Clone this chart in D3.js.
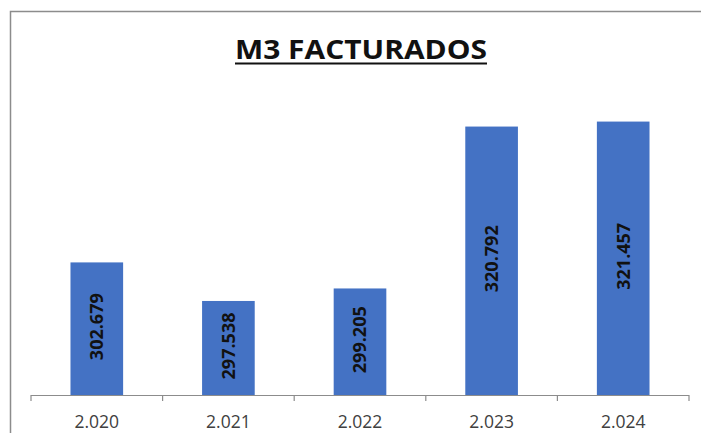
<!DOCTYPE html>
<html><head><meta charset="utf-8">
<script src="https://cdn.jsdelivr.net/npm/d3@7"></script>
<style>html,body{margin:0;padding:0;background:#fff;}svg{display:block;}</style>
</head><body>
<script>
const title = "M3 FACTURADOS";
const categories = ["2.020", "2.021", "2.022", "2.023", "2.024"];
const values = [302.679, 297.538, 299.205, 320.792, 321.457];
const valueLabels = ["302.679", "297.538", "299.205", "320.792", "321.457"];
const yDomain = [285, 325];

const W = 701, H = 433;
const FONT = "'Open Sans', 'Liberation Sans', Arial, sans-serif";
const svg = d3.select("body").append("svg").attr("width", W).attr("height", H);

// outer frame (cropped on right/bottom)
svg.append("path").attr("d", "M10.5,440 V11.5 H710")
  .attr("fill", "none").attr("stroke", "#8c8c8c").attr("stroke-width", 1.5);

const x = d3.scaleBand().domain(categories).range([31, 689]).paddingInner(0.6).paddingOuter(0.3);
const y = d3.scaleLinear().domain(yDomain).range([395, 95]);

// bars
svg.selectAll("rect.bar").data(values).join("rect").attr("class", "bar")
  .attr("x", (d, i) => x(categories[i]))
  .attr("width", x.bandwidth())
  .attr("y", d => y(d))
  .attr("height", d => y(yDomain[0]) - y(d))
  .attr("fill", "#4472C4");

// value labels
svg.selectAll("text.val").data(values).join("text").attr("class", "val")
  .attr("transform", (d, i) => {
    const cx = x(categories[i]) + x.bandwidth() / 2;
    const cy = (y(d) + y(yDomain[0])) / 2 - 2;
    return `translate(${cx},${cy}) rotate(-90)`;
  })
  .attr("text-anchor", "middle").attr("dy", "0.35em")
  .attr("font-family", FONT)
  .attr("font-weight", "bold").attr("font-size", 18).attr("fill", "#111")
  .text((d, i) => valueLabels[i]);

// x axis
const base = y(yDomain[0]);
const axisG = svg.append("g").attr("transform", `translate(0,${base})`);
axisG.append("line").attr("x1", 31).attr("x2", 689).attr("y1", 0.5).attr("y2", 0.5)
  .attr("stroke", "#8c8c8c").attr("stroke-width", 1.2);
const step = x.step();
d3.range(categories.length + 1).forEach(i => {
  const tx = 31 + i * step;
  axisG.append("line").attr("x1", tx).attr("x2", tx).attr("y1", 0).attr("y2", 6)
    .attr("stroke", "#8c8c8c").attr("stroke-width", 1.2);
});
axisG.selectAll("text.tick").data(categories).join("text").attr("class", "tick")
  .attr("x", d => x(d) + x.bandwidth() / 2).attr("y", 33)
  .attr("text-anchor", "middle")
  .attr("font-family", FONT)
  .attr("font-size", 17.5).attr("fill", "#404040")
  .text(d => d);

// title
svg.append("text").attr("x", 361).attr("y", 58.5).attr("text-anchor", "middle")
  .attr("font-family", FONT)
  .attr("font-weight", "bold").attr("font-size", 26.5).attr("fill", "#111")
  .attr("textLength", 252).attr("lengthAdjust", "spacingAndGlyphs")
  .text(title);
svg.append("line").attr("x1", 235).attr("x2", 487).attr("y1", 63.5).attr("y2", 63.5)
  .attr("stroke", "#111").attr("stroke-width", 2);
</script>
</body></html>
